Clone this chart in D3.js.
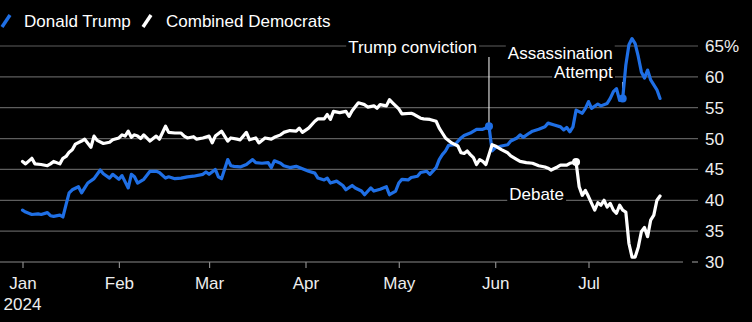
<!DOCTYPE html>
<html>
<head>
<meta charset="utf-8">
<script src="https://cdn.jsdelivr.net/npm/d3@7"></script>
<style>
  html, body { margin: 0; padding: 0; background: #000; }
  svg { display: block; }
  text { font-family: "Liberation Sans", Arial, Helvetica, sans-serif; }
</style>
</head>
<body>
<svg id="chart" width="752" height="322"></svg>
<script>
const year = 2024;

const seriesNames = ["Donald Trump", "Combined Democrats"];
const seriesColors = ["#1f6fe5", "#ffffff"];

const trumpDates = ["01-01","01-02","01-04","01-06","01-07","01-09","01-10","01-11","01-13","01-14","01-15","01-16","01-17","01-19","01-20","01-21","01-22","01-24","01-26","01-27","01-29","01-30","02-01","02-02","02-04","02-05","02-06","02-07","02-09","02-11","02-13","02-14","02-16","02-17","02-19","02-21","02-23","02-25","02-28","02-29","03-01","03-03","03-04","03-05","03-07","03-08","03-09","03-11","03-13","03-15","03-16","03-18","03-20","03-21","03-22","03-24","03-25","03-27","03-29","03-30","03-31","04-02","04-04","04-05","04-07","04-08","04-09","04-11","04-13","04-14","04-16","04-17","04-19","04-20","04-22","04-23","04-25","04-27","04-28","04-30","05-01","05-02","05-04","05-05","05-07","05-08","05-10","05-11","05-13","05-14","05-15","05-16","05-17","05-19","05-21","05-22","05-24","05-26","05-28","05-29","05-30","05-31","06-01","06-03","06-05","06-06","06-08","06-09","06-10","06-12","06-13","06-15","06-17","06-18","06-20","06-22","06-23","06-24","06-25","06-26","06-27","06-29","06-30","07-01","07-02","07-04","07-05","07-07","07-08","07-09","07-10","07-11","07-12","07-13","07-14","07-15","07-16","07-17","07-18","07-19","07-20","07-21","07-22","07-23","07-24"];
const trumpShare = [38.4,38.1,37.7,37.8,37.7,38.0,37.5,37.4,37.6,37.3,39.3,41.2,41.7,42.2,41.2,42.0,42.8,43.5,44.9,44.3,43.6,44.2,43.4,44.0,42.0,44.2,43.8,42.8,43.4,44.7,44.7,44.5,43.6,43.8,43.5,43.6,43.8,43.9,44.2,44.6,44.2,45.0,43.8,43.5,46.6,45.6,45.5,45.4,45.8,46.6,46.1,46.0,46.1,45.3,46.4,46.0,45.6,45.3,45.5,45.3,45.1,44.7,44.4,43.6,43.3,43.6,42.8,43.1,42.4,41.7,42.4,42.0,41.5,40.9,42.0,41.5,41.8,42.2,40.9,41.5,42.8,43.4,43.3,43.7,43.9,44.5,44.7,44.2,45.3,46.6,47.4,48.0,48.9,49.0,50.1,50.5,50.9,51.5,51.5,51.7,52.0,48.0,48.5,48.8,49.0,49.6,50.1,50.6,50.2,50.9,51.2,51.5,51.9,52.5,52.2,51.9,51.4,51.8,51.1,51.9,54.6,54.1,54.9,56.0,54.9,55.6,55.3,55.7,56.5,57.6,58.1,56.2,56.5,61.9,65.2,66.2,65.4,63.3,60.8,59.8,61.1,59.5,58.7,57.9,56.5];

const demDates = ["01-01","01-02","01-04","01-05","01-07","01-09","01-10","01-11","01-13","01-14","01-15","01-16","01-17","01-18","01-20","01-21","01-23","01-24","01-25","01-27","01-29","01-30","02-01","02-02","02-03","02-04","02-05","02-06","02-07","02-08","02-09","02-11","02-13","02-14","02-16","02-17","02-19","02-21","02-22","02-23","02-25","02-26","02-28","03-01","03-02","03-03","03-05","03-06","03-07","03-08","03-10","03-11","03-13","03-14","03-16","03-17","03-19","03-21","03-22","03-24","03-25","03-27","03-29","03-30","03-31","04-02","04-04","04-05","04-07","04-08","04-09","04-10","04-12","04-14","04-15","04-16","04-18","04-20","04-21","04-23","04-24","04-25","04-27","04-28","04-29","05-01","05-02","05-05","05-06","05-08","05-09","05-11","05-13","05-14","05-15","05-16","05-18","05-20","05-21","05-22","05-23","05-24","05-25","05-26","05-27","05-28","05-29","05-30","05-31","06-01","06-03","06-05","06-06","06-08","06-09","06-11","06-13","06-15","06-17","06-18","06-19","06-21","06-22","06-24","06-25","06-27","06-28","06-29","06-30","07-01","07-02","07-03","07-04","07-05","07-06","07-07","07-08","07-09","07-10","07-11","07-12","07-13","07-14","07-15","07-16","07-17","07-18","07-19","07-20","07-21","07-22","07-23","07-24"];
const demShare = [46.3,45.9,46.8,45.9,45.8,45.6,45.9,46.3,45.9,46.8,47.1,47.8,48.2,49.1,49.6,49.9,48.6,50.4,49.7,49.2,49.4,49.8,50.1,50.6,50.4,51.2,50.2,50.6,50.4,50.0,50.6,49.6,50.4,49.9,52.0,51.0,50.9,50.9,50.4,50.1,50.3,49.9,50.1,50.4,49.3,50.4,51.2,50.4,49.6,50.1,49.9,49.8,51.0,49.8,50.1,49.3,50.1,49.9,50.2,50.6,51.0,51.3,51.2,51.7,51.0,51.7,52.8,53.2,53.2,53.9,53.1,54.4,54.2,54.4,53.6,54.5,55.8,55.5,55.1,55.3,54.9,55.5,55.3,56.3,55.8,54.8,54.0,54.1,53.9,53.3,53.2,53.1,52.8,51.7,50.9,50.1,49.3,48.8,47.7,47.6,48.0,47.4,46.9,45.8,46.6,46.3,45.8,47.4,49.0,48.8,48.2,47.7,47.2,46.6,46.3,46.1,46.0,45.6,45.4,45.2,44.9,45.4,45.7,45.7,46.0,46.2,42.2,40.8,41.6,40.6,39.5,38.4,39.6,39.2,40.0,38.9,39.5,38.4,37.9,39.2,38.4,38.1,33.0,30.8,30.8,32.4,34.9,35.6,34.1,36.8,37.6,40.0,40.7];

const monthTicks = ["01-01","02-01","03-01","04-01","05-01","06-01","07-01"];
const yTicks = [30,35,40,45,50,55,60,65];

// annotations: label lines, date, which series the marker sits on
const annotationLabels = [["Trump conviction"], ["Assassination","Attempt"], ["Debate"]];
const annotationDates = ["05-30","07-12","06-27"];
const annotationSeries = [0, 0, 1];

const parse = d3.utcParse("%Y-%m-%d");
const pd = s => parse(year + "-" + s);

const trump = trumpDates.map((d,i) => ({date: pd(d), value: trumpShare[i]}));
const dems = demDates.map((d,i) => ({date: pd(d), value: demShare[i]}));
const series = [trump, dems];

const svg = d3.select("#chart");
svg.append("rect").attr("width",752).attr("height",322).attr("fill","#000");

const x = d3.scaleUtc().domain([pd("01-01"), pd("07-01")]).range([22.5, 588.5]);
const y = d3.scaleLinear().domain([30, 65]).range([262, 46]);

// gridlines
const grid = svg.append("g");
yTicks.filter(v => v !== 30).forEach(v => {
  grid.append("line").attr("x1",0).attr("x2",698)
    .attr("y1",y(v)).attr("y2",y(v))
    .attr("stroke","#5e5e5e").attr("stroke-width",1.2);
});
// baseline + small tick
grid.append("line").attr("x1",0).attr("x2",683).attr("y1",y(30)).attr("y2",y(30))
  .attr("stroke","#8a8a8a").attr("stroke-width",1.2);
grid.append("line").attr("x1",692).attr("x2",698).attr("y1",y(30)).attr("y2",y(30))
  .attr("stroke","#8a8a8a").attr("stroke-width",1.2);

// y labels
svg.append("g").selectAll("text").data(yTicks).join("text")
  .attr("x",705).attr("y",d => y(d) + 6)
  .attr("fill","#eeeeee").attr("font-size",17)
  .text(d => d === 65 ? d + "%" : d);

// x axis
const xAxis = d3.axisBottom(x)
  .tickValues(monthTicks.map(pd))
  .tickFormat(d3.utcFormat("%b"))
  .tickSize(6).tickPadding(9);
const gx = svg.append("g").attr("transform", `translate(0,${y(30)})`).call(xAxis);
gx.select(".domain").remove();
gx.selectAll(".tick line").attr("stroke","#8a8a8a").attr("stroke-width",1.2);
gx.selectAll(".tick text").attr("fill","#eeeeee").attr("font-size",17)
  .attr("font-family","'Liberation Sans', Arial, sans-serif");
svg.append("text").attr("x", x(pd("01-01"))).attr("y", 310)
  .attr("text-anchor","middle").attr("fill","#eeeeee").attr("font-size",17)
  .text(year);

// annotation text with black backgrounds
const annLayer = svg.append("g");
function label(lines, xr, ys, anchor) {
  lines.forEach((t, i) => {
    const g = annLayer.append("g");
    const txt = g.append("text").attr("x", xr).attr("y", ys[i])
      .attr("text-anchor", anchor).attr("fill","#ffffff").attr("font-size",17).text(t);
    const bb = txt.node().getBBox();
    g.insert("rect","text").attr("x",bb.x-2).attr("y",bb.y).attr("width",bb.width+4)
      .attr("height",bb.height).attr("fill","#000");
  });
}
const findPt = (k) => series[annotationSeries[k]].find(p => +p.date === +pd(annotationDates[k]));
const pConv = findPt(0), pAss = findPt(1), pDeb = findPt(2);

label(annotationLabels[0], x(pConv.date) - 12, [52.5], "end");
label(annotationLabels[1], x(pAss.date) - 10, [58.5, 77.5], "end");
label(annotationLabels[2], x(pDeb.date) - 12, [200], "end");

// leader lines
svg.append("line").attr("x1", x(pConv.date)).attr("x2", x(pConv.date))
  .attr("y1", 57).attr("y2", y(pConv.value)).attr("stroke","#fff").attr("stroke-width",1);
svg.append("line").attr("x1", x(pAss.date)).attr("x2", x(pAss.date))
  .attr("y1", 82).attr("y2", y(pAss.value)).attr("stroke","#fff").attr("stroke-width",1);

// lines
const line = d3.line().x(d => x(d.date)).y(d => y(d.value)).curve(d3.curveLinear);
svg.append("path").datum(trump).attr("d", line).attr("fill","none")
  .attr("stroke", seriesColors[0]).attr("stroke-width",3.2).attr("stroke-linejoin","round").attr("stroke-linecap","round");
svg.append("path").datum(dems).attr("d", line).attr("fill","none")
  .attr("stroke", seriesColors[1]).attr("stroke-width",3.2).attr("stroke-linejoin","round").attr("stroke-linecap","round");

// dots
[0,1,2].forEach(k => {
  const p = findPt(k);
  svg.append("circle").attr("cx", x(p.date)).attr("cy", y(p.value)).attr("r", 4)
    .attr("fill", seriesColors[annotationSeries[k]]);
});

// legend
const legend = svg.append("g");
const legX = [2, 143];
const legTextX = [24, 166];
seriesNames.forEach((n, i) => {
  legend.append("line").attr("x1", legX[i]).attr("y1", 27).attr("x2", legX[i] + 8).attr("y2", 15)
    .attr("stroke", seriesColors[i]).attr("stroke-width", 3.5);
  legend.append("text").attr("x", legTextX[i]).attr("y", 26.5)
    .attr("fill","#ffffff").attr("font-size",17).text(n);
});
</script>
</body>
</html>
